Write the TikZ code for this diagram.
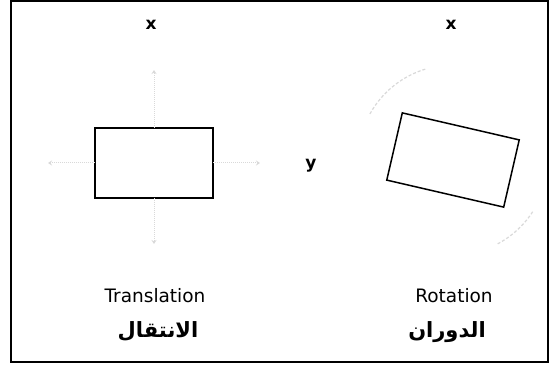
\documentclass[tikz,border=0pt]{standalone}
\usepackage{fontspec}
\setmainfont{DejaVu Sans}
\newfontfamily\arabicfont[Script=Arabic]{DejaVu Sans}
\TeXXeTstate=1
\usepackage{tikz}
\usetikzlibrary{calc}
\usetikzlibrary{arrows.meta}
\tikzset{
    shapebox/.style={
        draw,
        line width=1.5pt,
        black,
        inner sep=0pt,
        outer sep=0pt
    },
    % faint guide lines around the shapes
    fadearrow/.style={
        line width=1pt,
        gray!30,
        densely dotted,
        -{Stealth[length=4pt, width=5pt]}
    },
    fadearc/.style={
        line width=1.2pt,
        gray!30,
        densely dashed
    },
    axislabel/.style={font=\fontsize{17}{20}\selectfont\bfseries},
    namelabel/.style={font=\fontsize{18.5}{22}\selectfont},
    arabiclabel/.style={font=\fontsize{21}{25}\selectfont\arabicfont\bfseries}
}

\begin{document}
\begin{tikzpicture}[x=1pt, y=-1pt]
        \useasboundingbox (0,0) rectangle (550,369);
        \draw[line width=1.2pt] (11,1) rectangle (548,362);

        \node[shapebox, minimum width=118pt, minimum height=70pt] (trbox) at (154,163) {};
        \node[shapebox, minimum width=120pt, minimum height=69pt, rotate=-13] (rotbox) at (453,160) {};

        \path
        (154,70)  coordinate (up)
        (154,244) coordinate (down)
        (48,163)  coordinate (left)
        (260,163) coordinate (right)
        ;

        \draw[fadearrow] (trbox.north) to (up);
        \draw[fadearrow] (trbox.south) to (down);
        \draw[fadearrow] (trbox.west) to (left);
        \draw[fadearrow] (trbox.east) to (right);

        \draw[fadearc] ($(rotbox.center)+(151:95pt)$) arc[start angle=151, end angle=106, radius=95pt];
        \draw[fadearc] ($(rotbox.center)+(-33:95pt)$) arc[start angle=-33, end angle=-62, radius=95pt];

        \node[axislabel] (xleft) at (151,25) {x};
        \node[axislabel] (xright) at (451,25) {x};
        \node[axislabel] (ymid) at (311,166) {y};

        \node[namelabel] (trname) at (155,296) {Translation};
        \node[namelabel] (rotname) at (454,296) {Rotation};
        \node[arabiclabel] (trarabic) at (158,331) {\beginR الانتقال\endR};
        \node[arabiclabel] (rotarabic) at (447,332) {\beginR الدوران\endR};
\end{tikzpicture}
\end{document}
